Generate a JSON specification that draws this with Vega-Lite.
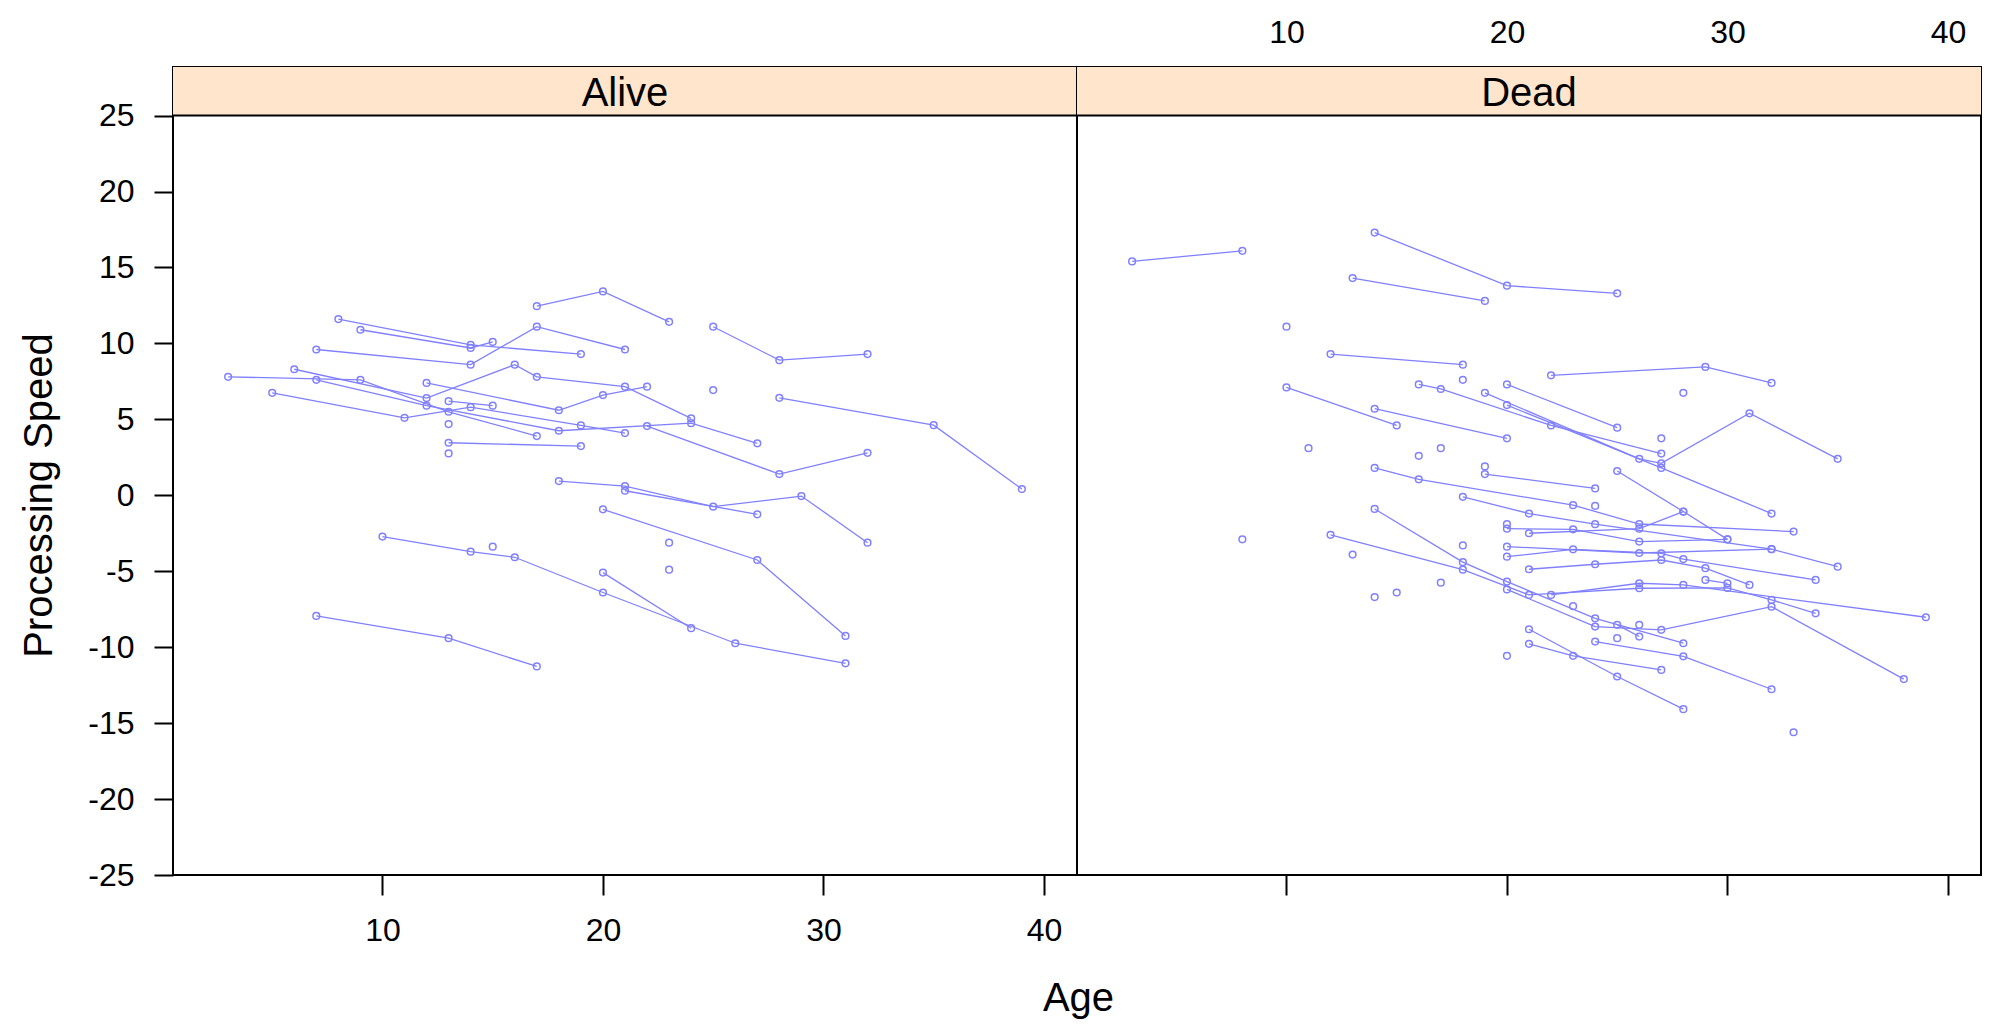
{
  "$schema": "https://vega.github.io/schema/vega-lite/v6.json",
  "background": "white",
  "padding": {"left": 18, "top": 15, "right": 20, "bottom": 8},
  "spacing": 0,
  "bounds": "flush",
  "datasets": {
    "alive": [
      {"id": "a1", "age": 3, "speed": 7.8}, {"id": "a1", "age": 9, "speed": 7.6}, {"id": "a1", "age": 13, "speed": 5.5}, {"id": "a1", "age": 17, "speed": 3.9},
      {"id": "a2", "age": 6, "speed": 8.3}, {"id": "a2", "age": 12, "speed": 6.4}, {"id": "a2", "age": 16, "speed": 8.6}, {"id": "a2", "age": 17, "speed": 7.8}, {"id": "a2", "age": 21, "speed": 7.15}, {"id": "a2", "age": 24, "speed": 5.06},
      {"id": "a3", "age": 5, "speed": 6.75}, {"id": "a3", "age": 11, "speed": 5.1}, {"id": "a3", "age": 14, "speed": 5.8}, {"id": "a3", "age": 19, "speed": 4.6}, {"id": "a3", "age": 21, "speed": 4.1},
      {"id": "a4", "age": 7, "speed": 9.6}, {"id": "a4", "age": 14, "speed": 8.6}, {"id": "a4", "age": 17, "speed": 11.1}, {"id": "a4", "age": 21, "speed": 9.6},
      {"id": "a5", "age": 8, "speed": 11.6}, {"id": "a5", "age": 14, "speed": 9.9}, {"id": "a5", "age": 19, "speed": 9.3},
      {"id": "a6", "age": 9, "speed": 10.9}, {"id": "a6", "age": 14, "speed": 9.7}, {"id": "a6", "age": 15, "speed": 10.1},
      {"id": "a7", "age": 7, "speed": 7.6}, {"id": "a7", "age": 12, "speed": 5.9}, {"id": "a7", "age": 18, "speed": 4.25}, {"id": "a7", "age": 24, "speed": 4.75}, {"id": "a7", "age": 27, "speed": 3.42},
      {"id": "a8", "age": 12, "speed": 7.4}, {"id": "a8", "age": 18, "speed": 5.6}, {"id": "a8", "age": 20, "speed": 6.6}, {"id": "a8", "age": 22, "speed": 7.15},
      {"id": "a9", "age": 13, "speed": 6.2}, {"id": "a9", "age": 15, "speed": 5.9},
      {"id": "a10", "age": 13, "speed": 3.46}, {"id": "a10", "age": 19, "speed": 3.24},
      {"id": "a11", "age": 13, "speed": 2.76},
      {"id": "a12", "age": 13, "speed": 4.69},
      {"id": "a13", "age": 17, "speed": 12.45}, {"id": "a13", "age": 20, "speed": 13.42}, {"id": "a13", "age": 23, "speed": 11.42},
      {"id": "a14", "age": 25, "speed": 11.1}, {"id": "a14", "age": 28, "speed": 8.9}, {"id": "a14", "age": 32, "speed": 9.3},
      {"id": "a15", "age": 22, "speed": 4.56}, {"id": "a15", "age": 28, "speed": 1.4}, {"id": "a15", "age": 32, "speed": 2.8},
      {"id": "a16", "age": 25, "speed": 6.93},
      {"id": "a17", "age": 28, "speed": 6.42}, {"id": "a17", "age": 35, "speed": 4.62}, {"id": "a17", "age": 39, "speed": 0.41},
      {"id": "a18", "age": 18, "speed": 0.94}, {"id": "a18", "age": 21, "speed": 0.61}, {"id": "a18", "age": 25, "speed": -0.75}, {"id": "a18", "age": 29, "speed": -0.05}, {"id": "a18", "age": 32, "speed": -3.12},
      {"id": "a19", "age": 21, "speed": 0.3}, {"id": "a19", "age": 27, "speed": -1.25},
      {"id": "a20", "age": 20, "speed": -0.92}, {"id": "a20", "age": 27, "speed": -4.26}, {"id": "a20", "age": 31, "speed": -9.26},
      {"id": "a21", "age": 23, "speed": -3.12},
      {"id": "a22", "age": 23, "speed": -4.9},
      {"id": "a23", "age": 10, "speed": -2.72}, {"id": "a23", "age": 14, "speed": -3.71}, {"id": "a23", "age": 16, "speed": -4.08}, {"id": "a23", "age": 20, "speed": -6.4}, {"id": "a23", "age": 26, "speed": -9.74}, {"id": "a23", "age": 31, "speed": -11.06},
      {"id": "a24", "age": 15, "speed": -3.38},
      {"id": "a25", "age": 20, "speed": -5.09}, {"id": "a25", "age": 24, "speed": -8.75},
      {"id": "a26", "age": 7, "speed": -7.94}, {"id": "a26", "age": 13, "speed": -9.41}, {"id": "a26", "age": 17, "speed": -11.27}
    ],
    "dead": [
      {"id": "d1", "age": 3, "speed": 15.4}, {"id": "d1", "age": 8, "speed": 16.1},
      {"id": "d2", "age": 14, "speed": 17.3}, {"id": "d2", "age": 20, "speed": 13.8}, {"id": "d2", "age": 25, "speed": 13.3},
      {"id": "d3", "age": 13, "speed": 14.3}, {"id": "d3", "age": 19, "speed": 12.8},
      {"id": "d4", "age": 10, "speed": 11.1},
      {"id": "d5", "age": 12, "speed": 9.3}, {"id": "d5", "age": 18, "speed": 8.6},
      {"id": "d6", "age": 18, "speed": 7.6},
      {"id": "d7", "age": 22, "speed": 7.9}, {"id": "d7", "age": 29, "speed": 8.45}, {"id": "d7", "age": 32, "speed": 7.4},
      {"id": "d8", "age": 28, "speed": 6.75},
      {"id": "d9", "age": 10, "speed": 7.1}, {"id": "d9", "age": 15, "speed": 4.6},
      {"id": "d10", "age": 14, "speed": 5.7}, {"id": "d10", "age": 20, "speed": 3.75},
      {"id": "d11", "age": 16, "speed": 7.3}, {"id": "d11", "age": 17, "speed": 7.0}, {"id": "d11", "age": 22, "speed": 4.6}, {"id": "d11", "age": 27, "speed": 2.75},
      {"id": "d12", "age": 19, "speed": 6.75}, {"id": "d12", "age": 26, "speed": 2.4}, {"id": "d12", "age": 27, "speed": 2.1}, {"id": "d12", "age": 31, "speed": 5.4}, {"id": "d12", "age": 35, "speed": 2.4},
      {"id": "d13", "age": 20, "speed": 7.3}, {"id": "d13", "age": 25, "speed": 4.45},
      {"id": "d14", "age": 20, "speed": 5.94}, {"id": "d14", "age": 27, "speed": 1.8}, {"id": "d14", "age": 32, "speed": -1.2},
      {"id": "d15", "age": 27, "speed": 3.75},
      {"id": "d16", "age": 11, "speed": 3.1},
      {"id": "d17", "age": 16, "speed": 2.6},
      {"id": "d18", "age": 17, "speed": 3.1},
      {"id": "d19", "age": 14, "speed": 1.8}, {"id": "d19", "age": 16, "speed": 1.05}, {"id": "d19", "age": 23, "speed": -0.65}, {"id": "d19", "age": 26, "speed": -1.89}, {"id": "d19", "age": 33, "speed": -2.39},
      {"id": "d20", "age": 18, "speed": -0.1}, {"id": "d20", "age": 21, "speed": -1.2}, {"id": "d20", "age": 24, "speed": -1.9}, {"id": "d20", "age": 32, "speed": -3.55}, {"id": "d20", "age": 35, "speed": -4.7},
      {"id": "d21", "age": 19, "speed": 1.9},
      {"id": "d22", "age": 19, "speed": 1.4}, {"id": "d22", "age": 24, "speed": 0.45},
      {"id": "d23", "age": 25, "speed": 1.6}, {"id": "d23", "age": 28, "speed": -1.07}, {"id": "d23", "age": 30, "speed": -2.9},
      {"id": "d24", "age": 24, "speed": -0.7},
      {"id": "d25", "age": 8, "speed": -2.9},
      {"id": "d26", "age": 14, "speed": -0.9}, {"id": "d26", "age": 18, "speed": -4.4}, {"id": "d26", "age": 20, "speed": -5.68}, {"id": "d26", "age": 24, "speed": -8.1}, {"id": "d26", "age": 28, "speed": -9.74},
      {"id": "d27", "age": 12, "speed": -2.6}, {"id": "d27", "age": 18, "speed": -4.9}, {"id": "d27", "age": 21, "speed": -6.56}, {"id": "d27", "age": 26, "speed": -6.12}, {"id": "d27", "age": 30, "speed": -6.1}, {"id": "d27", "age": 32, "speed": -6.89}, {"id": "d27", "age": 34, "speed": -7.77},
      {"id": "d28", "age": 13, "speed": -3.9},
      {"id": "d29", "age": 18, "speed": -3.3},
      {"id": "d30", "age": 17, "speed": -5.75},
      {"id": "d31", "age": 14, "speed": -6.7},
      {"id": "d32", "age": 15, "speed": -6.4},
      {"id": "d33", "age": 20, "speed": -2.2}, {"id": "d33", "age": 23, "speed": -2.24}, {"id": "d33", "age": 26, "speed": -3.05}, {"id": "d33", "age": 30, "speed": -2.9},
      {"id": "d34", "age": 21, "speed": -2.5}, {"id": "d34", "age": 26, "speed": -2.2}, {"id": "d34", "age": 28, "speed": -1.08},
      {"id": "d35", "age": 20, "speed": -3.38}, {"id": "d35", "age": 26, "speed": -3.8}, {"id": "d35", "age": 32, "speed": -3.55},
      {"id": "d36", "age": 20, "speed": -4.04}, {"id": "d36", "age": 23, "speed": -3.56}, {"id": "d36", "age": 27, "speed": -3.82}, {"id": "d36", "age": 28, "speed": -4.2}, {"id": "d36", "age": 34, "speed": -5.57},
      {"id": "d37", "age": 21, "speed": -4.87}, {"id": "d37", "age": 24, "speed": -4.54}, {"id": "d37", "age": 27, "speed": -4.26}, {"id": "d37", "age": 29, "speed": -4.8}, {"id": "d37", "age": 31, "speed": -5.9},
      {"id": "d38", "age": 22, "speed": -6.56}, {"id": "d38", "age": 26, "speed": -5.79}, {"id": "d38", "age": 28, "speed": -5.9}, {"id": "d38", "age": 39, "speed": -8.03},
      {"id": "d39", "age": 20, "speed": -6.2}, {"id": "d39", "age": 24, "speed": -8.64}, {"id": "d39", "age": 27, "speed": -8.86}, {"id": "d39", "age": 32, "speed": -7.33}, {"id": "d39", "age": 38, "speed": -12.1},
      {"id": "d40", "age": 21, "speed": -8.82}, {"id": "d40", "age": 25, "speed": -11.93}, {"id": "d40", "age": 28, "speed": -14.08},
      {"id": "d41", "age": 21, "speed": -9.78}, {"id": "d41", "age": 23, "speed": -10.57}, {"id": "d41", "age": 27, "speed": -11.5},
      {"id": "d42", "age": 20, "speed": -10.57},
      {"id": "d43", "age": 24, "speed": -9.63}, {"id": "d43", "age": 28, "speed": -10.6}, {"id": "d43", "age": 32, "speed": -12.77},
      {"id": "d44", "age": 25, "speed": -8.53}, {"id": "d44", "age": 26, "speed": -9.3},
      {"id": "d45", "age": 25, "speed": -9.41},
      {"id": "d46", "age": 26, "speed": -8.53},
      {"id": "d47", "age": 29, "speed": -5.57}, {"id": "d47", "age": 30, "speed": -5.8},
      {"id": "d48", "age": 33, "speed": -15.6},
      {"id": "d49", "age": 23, "speed": -7.3},
      {"id": "d50", "age": 20, "speed": -1.9}
    ]
  },
  "hconcat": [
    {
      "width": 904,
      "height": 808,
      "layer": [
        {
          "data": {"name": "alive"},
          "mark": {"type": "line", "color": "#8080ff", "strokeWidth": 1.3},
          "encoding": {
            "x": {
              "field": "age", "type": "quantitative",
              "scale": {"domain": [0.5, 41.5], "nice": false, "zero": false},
              "axis": {"orient": "bottom", "values": [10, 20, 30, 40], "tickSize": 20, "labelPadding": 20, "title": "Age", "titleX": 905, "titleY": 135, "titleBaseline": "alphabetic"}
            },
            "y": {
              "field": "speed", "type": "quantitative",
              "scale": {"domain": [-25, 28.2], "nice": false, "zero": false},
              "axis": {"orient": "left", "values": [-25, -20, -15, -10, -5, 0, 5, 10, 15, 20, 25], "labelExpr": "toString(datum.value)", "tickSize": 19, "labelPadding": 20, "title": "Processing Speed", "titleX": -114, "titleY": 428}
            },
            "detail": {"field": "id"},
            "order": {"field": "age"}
          }
        },
        {
          "data": {"name": "alive"},
          "mark": {"type": "point", "shape": "circle", "filled": false, "color": "#8080ff", "size": 45, "strokeWidth": 1.5, "opacity": 1},
          "encoding": {
            "x": {"field": "age", "type": "quantitative"},
            "y": {"field": "speed", "type": "quantitative"}
          }
        },
        {
          "data": {"values": [{"panel": "Alive"}]},
          "mark": {"type": "rect", "fill": "#ffe5cc"},
          "encoding": {
            "y": {"datum": 28.2, "type": "quantitative"},
            "y2": {"datum": 25}
          }
        },
        {
          "data": {"values": [{"panel": "Alive"}]},
          "mark": {"type": "rule", "stroke": "black", "strokeWidth": 2},
          "encoding": {"y": {"datum": 25, "type": "quantitative"}}
        },
        {
          "data": {"values": [{"panel": "Alive"}]},
          "mark": {"type": "text", "fontSize": 40, "baseline": "middle", "color": "black"},
          "encoding": {
            "y": {"datum": 26.4, "type": "quantitative"},
            "text": {"field": "panel"}
          }
        }
      ]
    },
    {
      "width": 904,
      "height": 808,
      "layer": [
        {
          "data": {"name": "dead"},
          "mark": {"type": "line", "color": "#8080ff", "strokeWidth": 1.3},
          "encoding": {
            "x": {
              "field": "age", "type": "quantitative",
              "scale": {"domain": [0.5, 41.5], "nice": false, "zero": false},
              "axis": {"orient": "top", "values": [10, 20, 30, 40], "ticks": false, "labelPadding": 18, "title": null}
            },
            "y": {
              "field": "speed", "type": "quantitative",
              "scale": {"domain": [-25, 28.2], "nice": false, "zero": false},
              "axis": null
            },
            "detail": {"field": "id"},
            "order": {"field": "age"}
          }
        },
        {
          "data": {"name": "dead"},
          "mark": {"type": "point", "shape": "circle", "filled": false, "color": "#8080ff", "size": 45, "strokeWidth": 1.5, "opacity": 1},
          "encoding": {
            "x": {
              "field": "age", "type": "quantitative",
              "axis": {"orient": "bottom", "values": [10, 20, 30, 40], "tickSize": 20, "labels": false, "title": null}
            },
            "y": {"field": "speed", "type": "quantitative", "axis": null}
          }
        },
        {
          "data": {"values": [{"panel": "Dead"}]},
          "mark": {"type": "rect", "fill": "#ffe5cc"},
          "encoding": {
            "y": {"datum": 28.2, "type": "quantitative", "axis": null},
            "y2": {"datum": 25}
          }
        },
        {
          "data": {"values": [{"panel": "Dead"}]},
          "mark": {"type": "rule", "stroke": "black", "strokeWidth": 2},
          "encoding": {"y": {"datum": 25, "type": "quantitative", "axis": null}}
        },
        {
          "data": {"values": [{"panel": "Dead"}]},
          "mark": {"type": "text", "fontSize": 40, "baseline": "middle", "color": "black"},
          "encoding": {
            "y": {"datum": 26.4, "type": "quantitative", "axis": null},
            "text": {"field": "panel"}
          }
        }
      ]
    }
  ],
  "config": {
    "font": "Liberation Sans",
    "view": {"stroke": "black", "strokeWidth": 2},
    "axis": {
      "grid": false,
      "domain": false,
      "tickColor": "black",
      "tickWidth": 2,
      "labelColor": "black",
      "labelFontSize": 32,
      "labelFont": "Liberation Sans",
      "titleColor": "black",
      "titleFont": "Liberation Sans",
      "titleFontSize": 40,
      "titleFontWeight": "normal"
    }
  }
}
